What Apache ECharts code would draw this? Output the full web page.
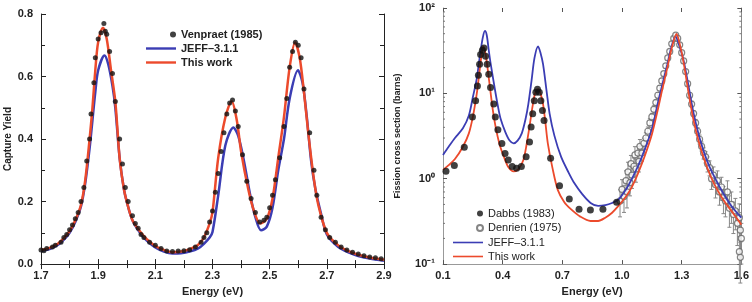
<!DOCTYPE html>
<html>
<head>
<meta charset="utf-8">
<script src="https://cdn.jsdelivr.net/npm/echarts@6/dist/echarts.min.js"></script>
<style>
  html, body { margin: 0; padding: 0; background: #fff; }
  #box { width: 752px; height: 302px; }
</style>
</head>
<body>
<div id="box"></div>
<script>
// ---- left panel: capture yield ----
var capTicks = ['1.7', '1.9', '2.1', '2.3', '2.5', '2.7', '2.9'];
var venE = [1.70, 1.71, 1.72, 1.74, 1.75, 1.77, 1.78, 1.79, 1.80, 1.81, 1.82, 1.83, 1.84, 1.85, 1.86, 1.87, 1.875, 1.885, 1.89, 1.90, 1.91, 1.92, 1.925, 1.93, 1.94, 1.95, 1.96, 1.975, 1.985, 1.995, 2.005, 2.02, 2.03, 2.04, 2.05, 2.06, 2.08, 2.10, 2.12, 2.14, 2.16, 2.18, 2.20, 2.22, 2.24, 2.26, 2.27, 2.28, 2.29, 2.30, 2.31, 2.32, 2.33, 2.34, 2.35, 2.36, 2.37, 2.38, 2.39, 2.405, 2.42, 2.435, 2.45, 2.465, 2.48, 2.49, 2.50, 2.51, 2.52, 2.535, 2.55, 2.56, 2.57, 2.58, 2.59, 2.60, 2.61, 2.62, 2.64, 2.655, 2.665, 2.68, 2.695, 2.71, 2.73, 2.75, 2.77, 2.79, 2.81, 2.83, 2.85, 2.87, 2.89];
var venY = [0.045, 0.043, 0.05, 0.055, 0.06, 0.07, 0.085, 0.095, 0.11, 0.125, 0.145, 0.165, 0.2, 0.245, 0.33, 0.40, 0.48, 0.58, 0.66, 0.72, 0.74, 0.77, 0.745, 0.735, 0.68, 0.61, 0.52, 0.40, 0.32, 0.245, 0.20, 0.155, 0.13, 0.115, 0.095, 0.085, 0.07, 0.06, 0.05, 0.042, 0.04, 0.042, 0.043, 0.046, 0.055, 0.07, 0.085, 0.10, 0.135, 0.17, 0.23, 0.29, 0.36, 0.42, 0.48, 0.515, 0.525, 0.49, 0.44, 0.35, 0.265, 0.21, 0.165, 0.135, 0.14, 0.15, 0.18, 0.22, 0.27, 0.34, 0.44, 0.53, 0.63, 0.68, 0.71, 0.70, 0.66, 0.56, 0.42, 0.30, 0.22, 0.15, 0.11, 0.085, 0.07, 0.055, 0.045, 0.038, 0.032, 0.027, 0.023, 0.02, 0.017];

var jeffCapE = [1.70, 1.73, 1.76, 1.78, 1.80, 1.82, 1.84, 1.855, 1.87, 1.88, 1.89, 1.90, 1.922, 1.935, 1.95, 1.96, 1.975, 1.99, 2.00, 2.02, 2.05, 2.07, 2.10, 2.13, 2.16, 2.19, 2.22, 2.25, 2.27, 2.29, 2.30, 2.32, 2.345, 2.373, 2.39, 2.41, 2.43, 2.45, 2.47, 2.49, 2.51, 2.53, 2.55, 2.57, 2.599, 2.615, 2.63, 2.645, 2.66, 2.68, 2.70, 2.74, 2.78, 2.81, 2.85, 2.90];
var jeffCapY = [0.042, 0.048, 0.062, 0.078, 0.100, 0.135, 0.185, 0.26, 0.37, 0.46, 0.55, 0.62, 0.667, 0.64, 0.57, 0.50, 0.34, 0.24, 0.20, 0.14, 0.095, 0.075, 0.053, 0.040, 0.034, 0.035, 0.040, 0.050, 0.065, 0.085, 0.103, 0.22, 0.38, 0.437, 0.41, 0.33, 0.23, 0.15, 0.108, 0.12, 0.18, 0.30, 0.40, 0.53, 0.62, 0.58, 0.47, 0.33, 0.24, 0.16, 0.095, 0.055, 0.036, 0.026, 0.018, 0.011];

var fitCapE = [1.70, 1.73, 1.76, 1.78, 1.80, 1.82, 1.84, 1.855, 1.87, 1.88, 1.89, 1.90, 1.917, 1.93, 1.945, 1.96, 1.975, 1.99, 2.00, 2.02, 2.05, 2.07, 2.10, 2.13, 2.16, 2.19, 2.22, 2.25, 2.27, 2.29, 2.30, 2.32, 2.345, 2.367, 2.385, 2.40, 2.425, 2.445, 2.467, 2.49, 2.51, 2.53, 2.55, 2.57, 2.589, 2.605, 2.62, 2.635, 2.655, 2.67, 2.70, 2.74, 2.78, 2.81, 2.85, 2.90];
var fitCapY = [0.045, 0.052, 0.066, 0.083, 0.105, 0.140, 0.190, 0.27, 0.40, 0.50, 0.62, 0.71, 0.756, 0.72, 0.62, 0.52, 0.34, 0.24, 0.20, 0.14, 0.10, 0.08, 0.058, 0.045, 0.038, 0.040, 0.048, 0.062, 0.085, 0.13, 0.166, 0.34, 0.47, 0.521, 0.46, 0.36, 0.24, 0.17, 0.13, 0.145, 0.21, 0.34, 0.47, 0.63, 0.709, 0.66, 0.55, 0.42, 0.27, 0.19, 0.10, 0.06, 0.04, 0.03, 0.021, 0.014];

// ---- right panel: fission cross section ----
var fisTicks = ['0.1', '0.4', '0.7', '1.0', '1.3', '1.6'];
var dabbsE = [0.115, 0.157, 0.207, 0.248, 0.264, 0.273, 0.278, 0.284, 0.289, 0.298, 0.306, 0.314, 0.322, 0.33, 0.339, 0.355, 0.363, 0.376, 0.396, 0.412, 0.428, 0.448, 0.47, 0.494, 0.518, 0.535, 0.543, 0.551, 0.559, 0.567, 0.575, 0.584, 0.592, 0.6, 0.608, 0.641, 0.686, 0.735, 0.784, 0.841, 0.904, 0.973];
var dabbsY = [1.22, 1.43, 2.33, 5.3, 8.2, 12.2, 16.3, 21.9, 28.5, 31.9, 34, 27.3, 21.9, 16.7, 11.7, 7.5, 5.3, 3.76, 2.59, 1.97, 1.66, 1.39, 1.33, 1.39, 1.81, 2.7, 4.03, 5.76, 8.2, 10.3, 11.2, 10.3, 8.2, 6.3, 4.8, 1.74, 0.83, 0.58, 0.44, 0.43, 0.44, 0.53];

var denrienE = [0.99, 1.00, 1.01, 1.02, 1.025, 1.03, 1.04, 1.045, 1.05, 1.06, 1.065, 1.07, 1.08, 1.085, 1.09, 1.10, 1.11, 1.12, 1.13, 1.14, 1.15, 1.16, 1.17, 1.18, 1.19, 1.20, 1.21, 1.22, 1.23, 1.24, 1.25, 1.26, 1.27, 1.28, 1.29, 1.30, 1.31, 1.32, 1.33, 1.34, 1.35, 1.36, 1.37, 1.38, 1.39, 1.40, 1.41, 1.42, 1.43, 1.44, 1.45, 1.46, 1.47, 1.48, 1.49, 1.50, 1.51, 1.52, 1.53, 1.54, 1.55, 1.56, 1.57, 1.58, 1.59, 1.595, 1.60, 1.59, 1.595];
var denrienY = [0.55, 0.75, 0.62, 0.95, 0.7, 1.2, 0.9, 1.5, 1.1, 1.4, 1.9, 1.3, 2.0, 1.6, 2.4, 2.0, 2.6, 3.0, 3.6, 4.5, 5.3, 6.5, 7.8, 9.5, 11.5, 14, 17, 21, 26, 31, 38, 44, 48, 44, 37, 30, 24, 18, 13, 9.5, 7.5, 5.8, 4.5, 3.6, 2.9, 2.4, 2.0, 1.8, 1.5, 1.35, 1.0, 1.1, 0.85, 0.95, 0.7, 0.8, 0.6, 0.55, 0.7, 0.45, 0.5, 0.38, 0.42, 0.3, 0.35, 0.25, 0.2, 0.14, 0.12];
var denrienErr = [0.35, 0.3, 0.35, 0.3, 0.35, 0.3, 0.3, 0.25, 0.3, 0.25, 0.25, 0.3, 0.2, 0.25, 0.2, 0.2, 0.15, 0.15, 0.12, 0.12, 0.1, 0.1, 0.08, 0.08, 0.07, 0.07, 0.06, 0.06, 0.05, 0.05, 0.05, 0.05, 0.05, 0.05, 0.05, 0.05, 0.05, 0.06, 0.06, 0.07, 0.08, 0.08, 0.1, 0.1, 0.12, 0.12, 0.15, 0.15, 0.2, 0.2, 0.25, 0.25, 0.3, 0.3, 0.3, 0.3, 0.35, 0.35, 0.35, 0.4, 0.4, 0.4, 0.4, 0.45, 0.45, 0.45, 0.5, 0.5, 0.5];

var jeffFisE = [0.10, 0.13, 0.16, 0.20, 0.23, 0.25, 0.27, 0.285, 0.30, 0.311, 0.32, 0.33, 0.34, 0.36, 0.375, 0.39, 0.414, 0.435, 0.455, 0.475, 0.496, 0.515, 0.529, 0.545, 0.56, 0.578, 0.59, 0.603, 0.62, 0.636, 0.66, 0.694, 0.73, 0.76, 0.80, 0.842, 0.88, 0.916, 0.95, 0.982, 1.02, 1.047, 1.08, 1.113, 1.15, 1.179, 1.20, 1.228, 1.25, 1.269, 1.285, 1.31, 1.335, 1.36, 1.39, 1.426, 1.46, 1.508, 1.55, 1.60];
var jeffFisY = [1.9, 2.4, 3.0, 3.9, 5.5, 9.0, 15, 27, 45, 54, 48, 32, 22, 11.5, 7.3, 5.0, 3.5, 2.8, 2.6, 2.8, 3.4, 5.0, 7.5, 14, 26, 35.6, 30, 22, 11, 5.8, 3.2, 1.8, 1.2, 0.89, 0.66, 0.52, 0.48, 0.49, 0.52, 0.57, 0.75, 0.97, 1.4, 2.16, 3.8, 7.5, 12, 22, 36, 46.5, 38, 24, 12, 5.8, 3.0, 1.66, 1.1, 0.68, 0.48, 0.35];

var fitFisE = [0.10, 0.13, 0.16, 0.20, 0.23, 0.25, 0.27, 0.28, 0.292, 0.303, 0.315, 0.332, 0.35, 0.365, 0.385, 0.406, 0.43, 0.455, 0.48, 0.504, 0.52, 0.537, 0.55, 0.562, 0.578, 0.59, 0.603, 0.615, 0.627, 0.65, 0.677, 0.71, 0.743, 0.79, 0.842, 0.88, 0.916, 0.95, 0.982, 1.02, 1.047, 1.08, 1.113, 1.15, 1.179, 1.20, 1.228, 1.25, 1.274, 1.29, 1.31, 1.335, 1.36, 1.39, 1.426, 1.46, 1.508, 1.55, 1.60];
var fitFisY = [1.27, 1.45, 1.7, 2.37, 3.4, 5.3, 10, 15.3, 26, 35.6, 28, 14, 6.5, 4.0, 2.5, 1.81, 1.35, 1.22, 1.3, 1.66, 2.5, 4.4, 7, 9.8, 11.2, 10, 7.5, 4.5, 2.6, 1.35, 0.74, 0.53, 0.44, 0.36, 0.32, 0.32, 0.35, 0.40, 0.48, 0.62, 0.78, 1.15, 1.81, 3.3, 6.3, 10.5, 20, 34, 49.6, 38, 22.8, 10, 4.8, 2.5, 1.39, 0.9, 0.57, 0.42, 0.29];

var logMinorVals = [0.2, 0.3, 0.4, 0.5, 0.6, 0.7, 0.8, 0.9, 2, 3, 4, 5, 6, 7, 8, 9, 20, 30, 40, 50, 60, 70, 80, 90];
var logLabels = { '0.1': '10⁻¹', '1': '10⁰', '10': '10¹', '100': '10²' };

function zip(a, b) {
    return a.map(function (v, i) { return [v, b[i]]; });
}

var FONT = 'Liberation Sans';
var BLUE = '#3b3db4';
var RED = '#ec4a2c';
// legend icons: a 30x10 box with the dot at its right end, or a bar across it
var dotIcon = 'path://M0,0M30,10M24,5a3,3 0 1,0 6,0a3,3 0 1,0 -6,0z';
var thickBar = 'path://M0,0M30,10M0,3.8h30v2.4h-30z';
var thinBar = 'path://M0,0M30,10M0,4.2h30v1.6h-30z';

var frameLine = { show: true, lineStyle: { color: '#222', width: 1 } };
var inTick = { show: true, inside: true, length: 5, lineStyle: { color: '#222' } };
var inMinor = { show: true, splitNumber: 2, length: 4, lineStyle: { color: '#222' } };
var tickLabel = { color: '#222', fontFamily: FONT, fontSize: 11, fontWeight: 'bold' };

var myChart = echarts.init(document.getElementById('box'));
var option = {
    animation: false,
    textStyle: { fontFamily: FONT },
    grid: [
        { left: 41, top: 14, width: 343, height: 255 },
        { left: 443, top: 8, width: 304, height: 259 }
    ],
    legend: [
        {
            orient: 'vertical', left: 141, top: 24, itemWidth: 30, itemHeight: 10, itemGap: 3,
            textStyle: { fontFamily: FONT, fontSize: 11, fontWeight: 'bold', color: '#222' },
            data: [{ name: 'Venpraet (1985)', icon: dotIcon }, { name: 'JEFF–3.1.1', icon: thickBar }, { name: 'This work', icon: thickBar }]
        },
        {
            orient: 'vertical', left: 447, top: 203, itemWidth: 30, itemHeight: 10, itemGap: 3,
            textStyle: { fontFamily: FONT, fontSize: 11, color: '#222' },
            data: [{ name: 'Dabbs (1983)', icon: dotIcon }, { name: 'Denrien (1975)', icon: dotIcon }, { name: 'JEFF–3.1.1', icon: thinBar }, { name: 'This work', icon: thinBar }]
        }
    ],
    xAxis: [
        {
            gridIndex: 0, type: 'value', min: 1.7, max: 2.9, interval: 0.2,
            axisLine: frameLine, axisTick: inTick, minorTick: inMinor, splitLine: { show: false },
            axisLabel: Object.assign({ margin: 6, formatter: function (v) { return capTicks[Math.round((v - 1.7) / 0.2)]; } }, tickLabel),
            name: 'Energy (eV)', nameLocation: 'middle', nameGap: 20,
            nameTextStyle: { fontFamily: FONT, fontSize: 11, fontWeight: 'bold', color: '#222' }
        },
        {
            gridIndex: 0, type: 'value', position: 'top', min: 1.7, max: 2.9, interval: 0.2,
            axisLine: frameLine, axisTick: inTick, minorTick: inMinor, splitLine: { show: false },
            axisLabel: { show: false }
        },
        {
            gridIndex: 1, type: 'value', min: 0.1, max: 1.6, interval: 0.3,
            axisLine: { show: true, lineStyle: { color: '#999', width: 1 } },
            axisTick: { show: true, inside: true, length: 4, lineStyle: { color: '#555' } },
            splitLine: { show: false },
            axisLabel: Object.assign({ margin: 6, formatter: function (v) { return fisTicks[Math.round((v - 0.1) / 0.3)]; } }, tickLabel),
            name: 'Energy (eV)', nameLocation: 'middle', nameGap: 20,
            nameTextStyle: { fontFamily: FONT, fontSize: 11, fontWeight: 'bold', color: '#222' }
        },
        {
            gridIndex: 1, type: 'value', position: 'top', min: 0.1, max: 1.6, interval: 0.3,
            axisLine: { show: false },
            axisTick: { show: true, inside: true, length: 4, lineStyle: { color: '#555' } },
            splitLine: { show: false }, axisLabel: { show: false }
        }
    ],
    yAxis: [
        {
            gridIndex: 0, type: 'value', min: 0, max: 0.8, interval: 0.2,
            axisLine: frameLine, axisTick: inTick, minorTick: inMinor, splitLine: { show: false },
            axisLabel: Object.assign({ margin: 8, formatter: function (v) { return v.toFixed(1); } }, tickLabel),
            name: 'Capture Yield', nameLocation: 'middle', nameGap: 28,
            nameTextStyle: { fontFamily: FONT, fontSize: 10, fontWeight: 'bold', color: '#222' }
        },
        {
            gridIndex: 0, type: 'value', position: 'right', min: 0, max: 0.8, interval: 0.2,
            axisLine: frameLine, axisTick: inTick, minorTick: inMinor, splitLine: { show: false },
            axisLabel: { show: false }
        },
        {
            gridIndex: 1, type: 'log', logBase: 10, min: 0.1, max: 100,
            axisLine: { show: true, lineStyle: { color: '#999', width: 1 } },
            axisTick: { show: true, inside: true, length: 4, lineStyle: { color: '#555' } },
            splitLine: { show: false },
            axisLabel: Object.assign({ margin: 8, formatter: function (v) { return logLabels[String(+v.toPrecision(3))] || ''; } }, tickLabel),
            name: 'Fission cross section (barns)', nameLocation: 'middle', nameGap: 41,
            nameTextStyle: { fontFamily: FONT, fontSize: 9, fontWeight: 'bold', color: '#222' }
        },
        {
            gridIndex: 1, type: 'log', logBase: 10, min: 0.1, max: 100, position: 'right',
            axisLine: { show: true, lineStyle: { color: '#888', width: 1 } },
            axisTick: { show: true, inside: true, length: 4, lineStyle: { color: '#555' } },
            splitLine: { show: false }, axisLabel: { show: false }
        }
    ],
    series: [
        {
            name: 'JEFF–3.1.1', type: 'line', xAxisIndex: 0, yAxisIndex: 0, smooth: 0.3,
            symbol: 'none', lineStyle: { color: BLUE, width: 2.5 }, itemStyle: { color: BLUE },
            data: zip(jeffCapE, jeffCapY), z: 3
        },
        {
            name: 'This work', type: 'line', xAxisIndex: 0, yAxisIndex: 0, smooth: 0.3,
            symbol: 'none', lineStyle: { color: RED, width: 2.5 }, itemStyle: { color: RED },
            data: zip(fitCapE, fitCapY), z: 4
        },
        {
            name: 'Venpraet (1985)', type: 'scatter', xAxisIndex: 0, yAxisIndex: 0,
            symbolSize: 5, itemStyle: { color: '#111' },
            data: zip(venE, venY), z: 5
        },
        {
            name: 'log minor ticks', type: 'custom', xAxisIndex: 2, yAxisIndex: 2, silent: true,
            data: logMinorVals.map(function (v) { return [0.1, v]; }),
            renderItem: function (params, api) {
                var p = api.coord([0.1, api.value(1)]);
                var q = api.coord([1.6, api.value(1)]);
                return {
                    type: 'group', children: [
                        { type: 'line', shape: { x1: p[0], y1: p[1], x2: p[0] + 2, y2: p[1] }, style: { stroke: '#777', lineWidth: 1 } },
                        { type: 'line', shape: { x1: q[0] - 2, y1: q[1], x2: q[0], y2: q[1] }, style: { stroke: '#777', lineWidth: 1 } }
                    ]
                };
            },
            z: 1
        },
        {
            name: 'Denrien errors', type: 'custom', xAxisIndex: 2, yAxisIndex: 2, silent: true,
            data: denrienE.map(function (e, i) { return [e, denrienY[i], denrienErr[i]]; }),
            renderItem: function (params, api) {
                var e = api.value(0), y = api.value(1), r = api.value(2);
                var lo = api.coord([e, y * (1 - r)]);
                var hi = api.coord([e, y * (1 + r)]);
                return {
                    type: 'group', children: [
                        { type: 'line', shape: { x1: lo[0], y1: lo[1], x2: hi[0], y2: hi[1] }, style: { stroke: '#888', lineWidth: 1 } },
                        { type: 'line', shape: { x1: lo[0] - 2, y1: lo[1], x2: lo[0] + 2, y2: lo[1] }, style: { stroke: '#888', lineWidth: 1 } },
                        { type: 'line', shape: { x1: hi[0] - 2, y1: hi[1], x2: hi[0] + 2, y2: hi[1] }, style: { stroke: '#888', lineWidth: 1 } }
                    ]
                };
            },
            z: 1
        },
        {
            name: 'Denrien (1975)', type: 'scatter', xAxisIndex: 2, yAxisIndex: 2,
            symbolSize: 6, itemStyle: { color: '#fff', borderColor: '#666', borderWidth: 1.2 },
            data: zip(denrienE, denrienY), z: 2
        },
        {
            name: 'JEFF–3.1.1', type: 'line', xAxisIndex: 2, yAxisIndex: 2, smooth: 0.3,
            symbol: 'none', lineStyle: { color: BLUE, width: 1.8 }, itemStyle: { color: BLUE },
            data: zip(jeffFisE, jeffFisY), z: 3
        },
        {
            name: 'This work', type: 'line', xAxisIndex: 2, yAxisIndex: 2, smooth: 0.3,
            symbol: 'none', lineStyle: { color: RED, width: 1.8 }, itemStyle: { color: RED },
            data: zip(fitFisE, fitFisY), z: 4
        },
        {
            name: 'Dabbs (1983)', type: 'scatter', xAxisIndex: 2, yAxisIndex: 2,
            symbolSize: 7, itemStyle: { color: '#111' },
            data: zip(dabbsE, dabbsY), z: 5
        }
    ]
};
myChart.setOption(option);
</script>
</body>
</html>
